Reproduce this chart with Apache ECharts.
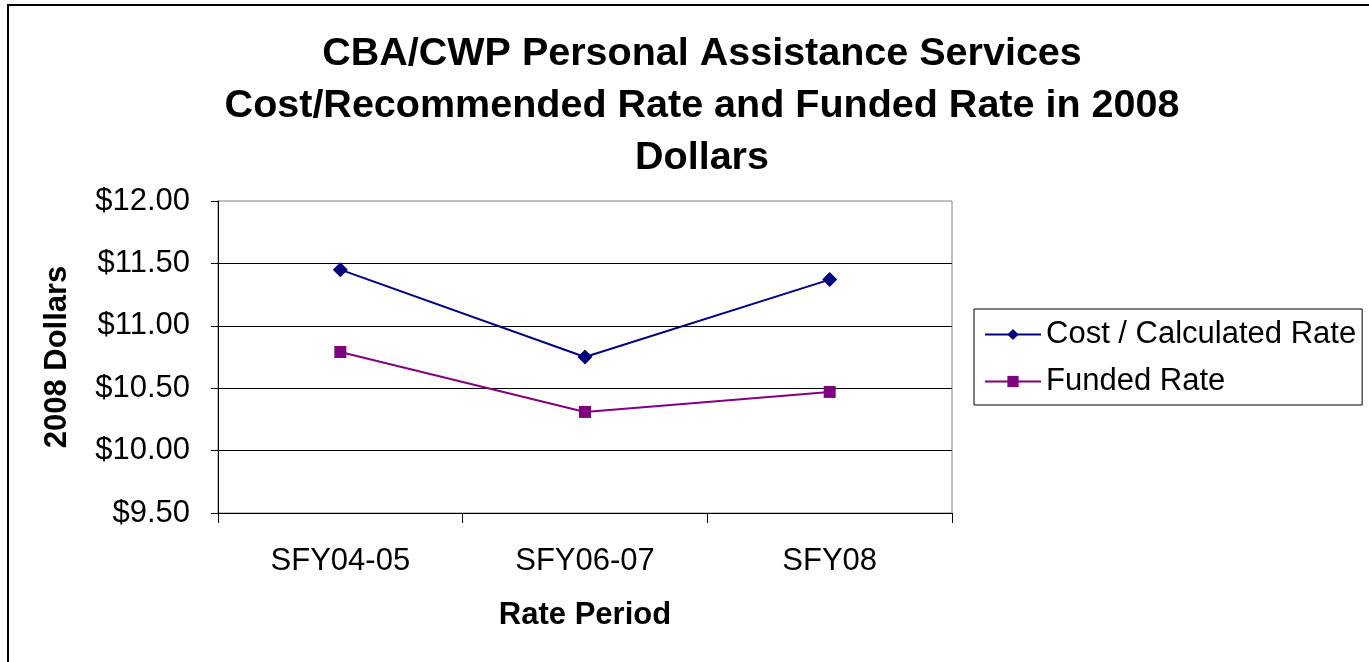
<!DOCTYPE html>
<html>
<head>
<meta charset="utf-8">
<script src="https://cdn.jsdelivr.net/npm/echarts@6/dist/echarts.min.js"></script>
<style>
  html, body { margin: 0; padding: 0; background: #fff; }
  #chart { width: 1369px; height: 662px; }
</style>
</head>
<body>
<div id="chart"></div>
<script>
    var periods = ['SFY04-05', 'SFY06-07', 'SFY08'];
    var costRate = [11.45, 10.75, 11.37];
    var fundedRate = [10.79, 10.31, 10.47];
    var seriesNames = ['Cost / Calculated Rate', 'Funded Rate'];

    var chart = echarts.init(document.getElementById('chart'));
    var font = '"Liberation Sans", Arial, sans-serif';

    var option = {
        backgroundColor: '#fff',
        textStyle: { fontFamily: font },
        title: {
            text: 'CBA/CWP Personal Assistance Services\nCost/Recommended Rate and Funded Rate in 2008\nDollars',
            left: 697,
            textAlign: 'center',
            top: 23,
            textStyle: {
                fontFamily: font,
                fontSize: 39.5,
                fontWeight: 'bold',
                color: '#000',
                lineHeight: 52
            }
        },
        graphic: [{
            type: 'rect',
            shape: { x: 8, y: 5, width: 3000, height: 3000 },
            style: { fill: 'none', stroke: '#000', lineWidth: 2 },
            silent: true
        }],
        legend: {
            orient: 'vertical',
            left: 974,
            top: 309,
            padding: [10, 6, 8, 10],
            itemGap: 16,
            itemWidth: 56,
            itemHeight: 14,
            borderColor: '#000',
            borderWidth: 1,
            borderRadius: 0,
            textStyle: { fontFamily: font, fontSize: 31, color: '#000' },
            data: seriesNames
        },
        grid: {
            left: 218,
            top: 201,
            right: 417,
            bottom: 149,
            show: true,
            borderColor: '#808080',
            borderWidth: 1,
            backgroundColor: '#fff'
        },
        xAxis: {
            type: 'category',
            data: periods,
            boundaryGap: true,
            name: 'Rate Period',
            nameLocation: 'middle',
            nameGap: 87,
            nameTextStyle: { fontFamily: font, fontSize: 31, fontWeight: 'bold', color: '#000' },
            axisLine: { lineStyle: { color: '#000', width: 1 } },
            axisTick: { show: true, length: 10, lineStyle: { color: '#000' } },
            axisLabel: { margin: 33, fontSize: 31, color: '#000', fontFamily: font },
            splitLine: { show: false }
        },
        yAxis: {
            type: 'value',
            min: 9.5,
            max: 12,
            interval: 0.5,
            name: '2008 Dollars',
            nameLocation: 'middle',
            nameRotate: 90,
            nameGap: 145,
            nameTextStyle: { fontFamily: font, fontSize: 31, fontWeight: 'bold', color: '#000' },
            axisLine: { show: true, lineStyle: { color: '#000', width: 1 } },
            axisTick: { show: true, length: 7, lineStyle: { color: '#000' } },
            axisLabel: {
                margin: 28,
                fontSize: 31,
                color: '#000',
                fontFamily: font,
                formatter: function (v) { return '$' + v.toFixed(2); }
            },
            splitLine: { show: true, showMaxLine: false, lineStyle: { color: '#000', width: 1 } }
        },
        series: [
            {
                name: seriesNames[0],
                type: 'line',
                data: costRate,
                symbol: 'diamond',
                symbolSize: 15,
                lineStyle: { color: '#000080', width: 2 },
                itemStyle: { color: '#000080' },
                animation: false
            },
            {
                name: seriesNames[1],
                type: 'line',
                data: fundedRate,
                symbol: 'rect',
                symbolSize: 12,
                lineStyle: { color: '#800080', width: 2 },
                itemStyle: { color: '#800080' },
                animation: false
            }
        ]
    };
    chart.setOption(option);
</script>
</body>
</html>
